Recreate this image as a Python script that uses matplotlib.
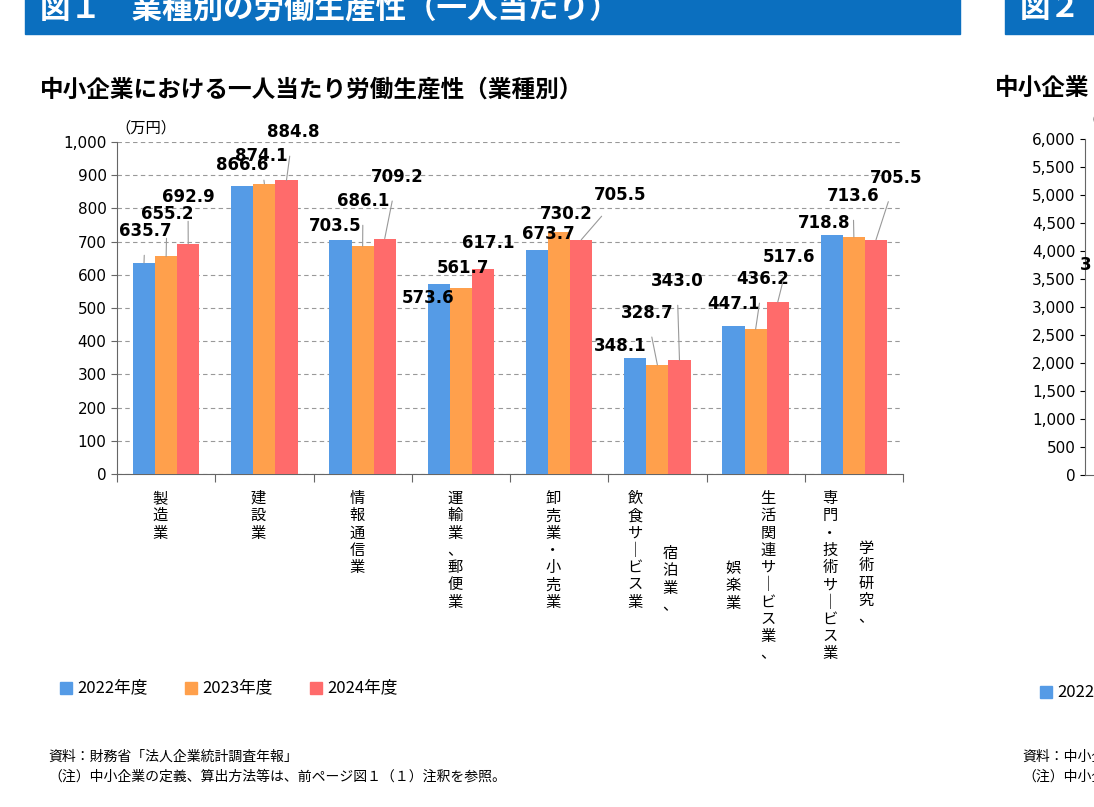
import matplotlib
matplotlib.use("Agg")
import matplotlib.pyplot as plt
import numpy as np
from matplotlib.patches import Rectangle

plt.rcParams['font.family'] = ['Noto Sans CJK JP', 'DejaVu Sans']
NUM_FONT = ['DejaVu Sans', 'Noto Sans CJK JP']

# data
years = ['2022年度', '2023年度', '2024年度']
colors = ['#559BE6', '#FFA04C', '#FF6B6B']
v2022 = [635.7, 866.6, 703.5, 573.6, 673.7, 348.1, 447.1, 718.8]
v2023 = [655.2, 874.1, 686.1, 561.7, 730.2, 328.7, 436.2, 713.6]
v2024 = [692.9, 884.8, 709.2, 617.1, 705.5, 343.0, 517.6, 705.5]
# category labels as vertical columns: (text, x pixel, top y pixel)
cat_cols = [
    [('製造業', 160, 490)],
    [('建設業', 258, 490)],
    [('情報通信業', 357, 490)],
    [('運輸業、郵便業', 455, 490)],
    [('卸売業・小売業', 553, 490)],
    [('飲食サービス業', 635, 490), ('宿泊業、', 670, 545)],
    [('娯楽業', 733, 560), ('生活関連サービス業、', 768, 490)],
    [('専門・技術サービス業', 830, 490), ('学術研究、', 866, 540)],
]
# data label positions in pixels (x, y from top)
label_px = [
    [(145, 231), (167, 214), (188, 197)],
    [(242, 165), (261, 156), (293, 132)],
    [(335, 226), (363, 201), (397, 177)],
    [(428, 298), (463, 268), (488, 243)],
    [(548, 234), (566, 214), (620, 195)],
    [(620, 346), (647, 313), (677, 281)],
    [(734, 304), (763, 279), (789, 257)],
    [(824, 223), (853, 196), (896, 178)],
]

W, H = 1094, 807
fig = plt.figure(figsize=(W / 100, H / 100), dpi=100)

# banners
fig.patches.append(Rectangle((25 / W, 1 - 34 / H), 935 / W, 40 / H, transform=fig.transFigure,
                             color='#0B6FBF', zorder=0))
fig.patches.append(Rectangle((1005 / W, 1 - 34 / H), 100 / W, 40 / H, transform=fig.transFigure,
                             color='#0B6FBF', zorder=0))
fig.text(40 / W, 1 - 8 / H, '図１　業種別の労働生産性（一人当たり）', color='white', fontsize=22,
         fontweight='bold', va='center')
fig.text(1020 / W, 1 - 8 / H, '図２', color='white', fontsize=22, fontweight='bold', va='center')

fig.text(40 / W, 1 - 90 / H, '中小企業における一人当たり労働生産性（業種別）', fontsize=17,
         fontweight='bold', va='center')
fig.text(995 / W, 1 - 88 / H, '中小企業', fontsize=17, fontweight='bold', va='center')

ax = fig.add_axes([117 / W, 1 - 474 / H, 786 / W, 332 / H])
x = np.arange(len(v2022))
bw = 0.225
series = [v2022, v2023, v2024]
for k, vals in enumerate(series):
    ax.bar(x + (k - 1) * bw, vals, bw, color=colors[k], label=years[k], zorder=3)
ax.set_xlim(-0.5, len(x) - 0.5)
ax.set_ylim(0, 1000)
ax.set_yticks(range(0, 1001, 100))
ax.set_yticklabels([f'{t:,}' for t in range(0, 1001, 100)], fontsize=11, family=NUM_FONT)
ax.yaxis.grid(True, linestyle=(0, (4, 3)), color='#999999', lw=0.8, zorder=0)
ax.set_xticks(np.arange(len(x) + 1) - 0.5)
ax.set_xticklabels([])
ax.tick_params(axis='x', length=6, color='#666666')
ax.tick_params(axis='y', length=4, color='#666666')
for s in ['top', 'right']:
    ax.spines[s].set_visible(False)
ax.spines['left'].set_color('#666666')
ax.spines['bottom'].set_color('#666666')
fig.text(115 / W, 1 - 128 / H, '（万円）', fontsize=11, va='center')

for i in range(len(x)):
    for k, vals in enumerate(series):
        px, py = label_px[i][k]
        bx = x[i] + (k - 1) * bw
        disp = ax.transData.transform((bx, vals[i]))
        dist = np.hypot(disp[0] - px, disp[1] - (H - py))
        ap = dict(arrowstyle='-', color='#999999', lw=0.8, shrinkA=9, shrinkB=0) if dist > 28 else None
        ax.annotate(f'{vals[i]:.1f}', xy=(bx, vals[i]), xytext=(px, H - py),
                    textcoords='figure pixels', ha='center', va='center', fontsize=12,
                    fontweight='bold', family=NUM_FONT, arrowprops=ap, zorder=5)

for cols in cat_cols:
    for txt, px, py in cols:
        s = '\n'.join(c if c != 'ー' else '｜' for c in txt)
        fig.text(px / W, 1 - py / H, s, fontsize=11, ha='center', va='top', linespacing=1.02)

# legend
lx = 60
for k in range(3):
    fig.patches.append(Rectangle(((lx + k * 125) / W, 1 - 694 / H), 12 / W, 12 / H,
                                 transform=fig.transFigure, color=colors[k]))
    fig.text((lx + 17 + k * 125) / W, 1 - 688 / H, years[k], fontsize=12, va='center')
fig.patches.append(Rectangle((1040 / W, 1 - 698 / H), 12 / W, 12 / H, transform=fig.transFigure,
                             color=colors[0]))
fig.text(1057 / W, 1 - 692 / H, '2022年度', fontsize=12, va='center')

fig.text(48 / W, 1 - 757 / H, '資料：財務省「法人企業統計調査年報」', fontsize=10, va='center')
fig.text(48 / W, 1 - 777 / H, '（注）中小企業の定義、算出方法等は、前ページ図１（１）注釈を参照。',
         fontsize=10, va='center')
fig.text(1022 / W, 1 - 757 / H, '資料：中小企業庁', fontsize=10, va='center')
fig.text(1022 / W, 1 - 777 / H, '（注）中小企業の定義', fontsize=10, va='center')

# partially visible second chart
ax2 = fig.add_axes([1085 / W, 1 - 475 / H, 300 / W, 336 / H])
ax2.set_ylim(0, 6000)
ax2.set_yticks(range(0, 6001, 500))
ax2.set_yticklabels([f'{t:,}' for t in range(0, 6001, 500)], fontsize=11, family=NUM_FONT)
ax2.set_xticks([])
for s in ['top', 'right']:
    ax2.spines[s].set_visible(False)
ax2.spines['left'].set_color('#666666')
ax2.spines['bottom'].set_color('#666666')
fig.text(1082 / W, 1 - 120 / H, '（万円）', fontsize=11, va='center')
fig.text(1080 / W, 1 - 265 / H, '3', fontsize=12, fontweight='bold', family=NUM_FONT, va='center')

fig.savefig('out.png', dpi=100)
